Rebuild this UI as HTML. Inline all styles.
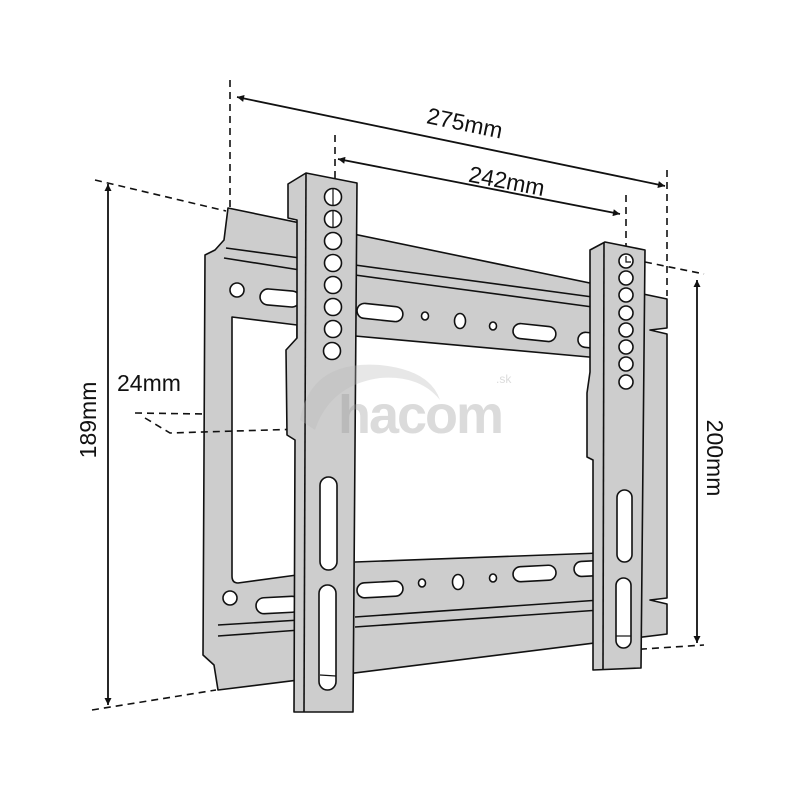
<!DOCTYPE html>
<html><head><meta charset="utf-8"><style>
html,body{margin:0;padding:0;background:#fff;width:800px;height:800px;overflow:hidden}
svg{display:block}
text{font-family:"Liberation Sans",sans-serif;fill:#111}
</style></head><body>
<svg width="800" height="800" viewBox="0 0 800 800" xmlns="http://www.w3.org/2000/svg">
<defs>
<marker id="ah" viewBox="0 0 10 10" refX="10" refY="5" markerWidth="9" markerHeight="7" orient="auto-start-reverse" markerUnits="userSpaceOnUse">
<path d="M0,0 L10,5 L0,10 z" fill="#111"/></marker>
</defs>
<g stroke="#111" stroke-width="1.6" fill="none" stroke-dasharray="7,5">
<line x1="230" y1="80" x2="230" y2="212"/>
<line x1="335" y1="135" x2="335" y2="190"/>
<line x1="667" y1="170" x2="667" y2="296"/>
<line x1="626" y1="195" x2="626" y2="258"/>
<line x1="95" y1="180" x2="226" y2="211"/>
<line x1="92" y1="710" x2="216" y2="690"/>
<line x1="645" y1="262" x2="704" y2="274"/>
<line x1="628" y1="650" x2="704" y2="645"/>
</g>
<g stroke="#111" stroke-width="1.8" fill="none">
<line x1="237" y1="97" x2="665" y2="186" marker-start="url(#ah)" marker-end="url(#ah)"/>
<line x1="338" y1="159" x2="620" y2="214" marker-start="url(#ah)" marker-end="url(#ah)"/>
<line x1="108" y1="184" x2="108" y2="705" marker-start="url(#ah)" marker-end="url(#ah)"/>
<line x1="697" y1="280" x2="697" y2="643" marker-start="url(#ah)" marker-end="url(#ah)"/>
</g>
<text x="465" y="131" font-size="23" text-anchor="middle" transform="rotate(11.7 465 122)">275mm</text>
<text x="507" y="189" font-size="23" text-anchor="middle" transform="rotate(11 507 180)">242mm</text>
<text x="117" y="391" font-size="23">24mm</text>
<text x="0" y="0" font-size="23" text-anchor="middle" transform="translate(96 420) rotate(-90)">189mm</text>
<text x="0" y="0" font-size="23" text-anchor="middle" transform="translate(707 458) rotate(90)">200mm</text>

<!-- back plate -->
<g stroke="#111" stroke-width="1.6" fill="#cdcdcd" stroke-linejoin="round">
<path d="M228,208 L667,299 L667,328 L650,330 L667,334 L667,598 L650,600 L667,604 L667,634 L218,690 L214,665 L203,655 L205,255 L215,250 L224,240 Z"/>
<path d="M232,317 L297,325 L297,575 L238,583 Q232,583 232,576 Z" fill="#fff"/>
<path d="M355,336 L600,358 L600,553 L355,562 Z" fill="#fff" stroke="none"/>
<line x1="355" y1="336" x2="600" y2="358"/>
<line x1="355" y1="562" x2="600" y2="553"/>
<line x1="226" y1="248" x2="300" y2="258" fill="none"/>
<line x1="224" y1="258" x2="300" y2="270" fill="none"/>
<line x1="355" y1="265" x2="600" y2="298" fill="none"/>
<line x1="355" y1="275" x2="600" y2="308" fill="none"/>
<line x1="218" y1="625" x2="300" y2="620" fill="none"/>
<line x1="218" y1="636" x2="300" y2="630" fill="none"/>
<line x1="355" y1="617" x2="600" y2="600" fill="none"/>
<line x1="355" y1="627" x2="600" y2="610" fill="none"/>
</g>
<g stroke="#111" stroke-width="1.6" fill="#fff">
<circle cx="237" cy="290" r="7"/>
<rect x="260" y="290" width="40" height="16" rx="8" transform="rotate(5 280 298)"/>
<rect x="357" y="305" width="46" height="15" rx="7.5" transform="rotate(6 380 312)"/>
<ellipse cx="425" cy="316" rx="3.5" ry="4"/>
<ellipse cx="460" cy="321" rx="5.5" ry="7.5"/>
<ellipse cx="493" cy="326" rx="3.5" ry="4"/>
<rect x="513" y="325" width="43" height="15" rx="7.5" transform="rotate(6 534 332)"/>
<rect x="578" y="333" width="28" height="15" rx="7.5" transform="rotate(6 592 340)"/>
<circle cx="230" cy="598" r="7"/>
<rect x="256" y="597" width="44" height="16" rx="8" transform="rotate(-3 278 605)"/>
<rect x="357" y="582" width="46" height="15" rx="7.5" transform="rotate(-3 380 590)"/>
<ellipse cx="422" cy="583" rx="3.5" ry="4"/>
<ellipse cx="458" cy="582" rx="5.5" ry="7.5"/>
<ellipse cx="493" cy="578" rx="3.5" ry="4"/>
<rect x="513" y="566" width="43" height="15" rx="7.5" transform="rotate(-3 534 573)"/>
<rect x="574" y="561" width="30" height="15" rx="7.5" transform="rotate(-3 590 568)"/>
</g>
<g stroke="#111" stroke-width="1.6" fill="none" stroke-dasharray="7,5">
<line x1="135" y1="413" x2="205" y2="414"/>
<polyline points="145,418 170,433 302,429"/>
</g>

<!-- left strip -->
<g stroke="#111" stroke-width="1.6" fill="#cdcdcd" stroke-linejoin="round">
<path d="M288,184 L306,173 L357,183 L353,712 L294,712 L295,440 L287,435 L286,350 L297,338 L297,220 L288,218 Z"/>
<line x1="306" y1="173" x2="304" y2="712"/>
</g>
<g stroke="#111" stroke-width="1.6" fill="#fff">
<circle cx="333" cy="197" r="8.5"/><circle cx="333" cy="219" r="8.5"/><circle cx="333" cy="241" r="8.5"/>
<circle cx="333" cy="263" r="8.5"/><circle cx="333" cy="285" r="8.5"/><circle cx="333" cy="307" r="8.5"/>
<circle cx="333" cy="329" r="8.5"/><circle cx="332" cy="351" r="8.5"/>
<rect x="320" y="477" width="17" height="93" rx="8.5"/>
<rect x="319" y="585" width="17" height="105" rx="8.5"/>
</g>
<g stroke="#111" stroke-width="1.2" fill="none">
<line x1="333" y1="189" x2="333" y2="205"/><line x1="333" y1="211" x2="333" y2="227"/>
<line x1="320" y1="675" x2="336" y2="676"/>
</g>

<!-- right strip -->
<g stroke="#111" stroke-width="1.6" fill="#cdcdcd" stroke-linejoin="round">
<path d="M590,250 L605,242 L645,250 L641,668 L593,670 L593,460 L587,457 L587,393 L590,372 Z"/>
<line x1="604" y1="243" x2="603" y2="669"/>
</g>
<g stroke="#111" stroke-width="1.6" fill="#fff">
<circle cx="626" cy="261" r="7"/><circle cx="626" cy="278" r="7"/><circle cx="626" cy="295" r="7"/>
<circle cx="626" cy="313" r="7"/><circle cx="626" cy="330" r="7"/><circle cx="626" cy="347" r="7"/>
<circle cx="626" cy="364" r="7"/><circle cx="626" cy="382" r="7"/>
<rect x="617" y="490" width="15" height="72" rx="7.5"/>
<rect x="616" y="578" width="15" height="70" rx="7.5"/>
</g>
<g stroke="#111" stroke-width="1.2" fill="none">
<path d="M626,256 L626,262 L631,262"/>
<line x1="616" y1="636" x2="631" y2="636"/>
</g>

<!-- watermark -->
<g opacity="0.35">
<path d="M300,420 Q310,360 380,365 Q430,370 440,400 Q420,375 380,378 Q330,385 315,430 Z" fill="#bbb"/>
<text x="338" y="433" font-size="54" font-weight="bold" style="fill:#999;letter-spacing:-2px">hacom</text>
<text x="496" y="383" font-size="12" style="fill:#999">.sk</text>
</g>
</svg>
</body></html>
